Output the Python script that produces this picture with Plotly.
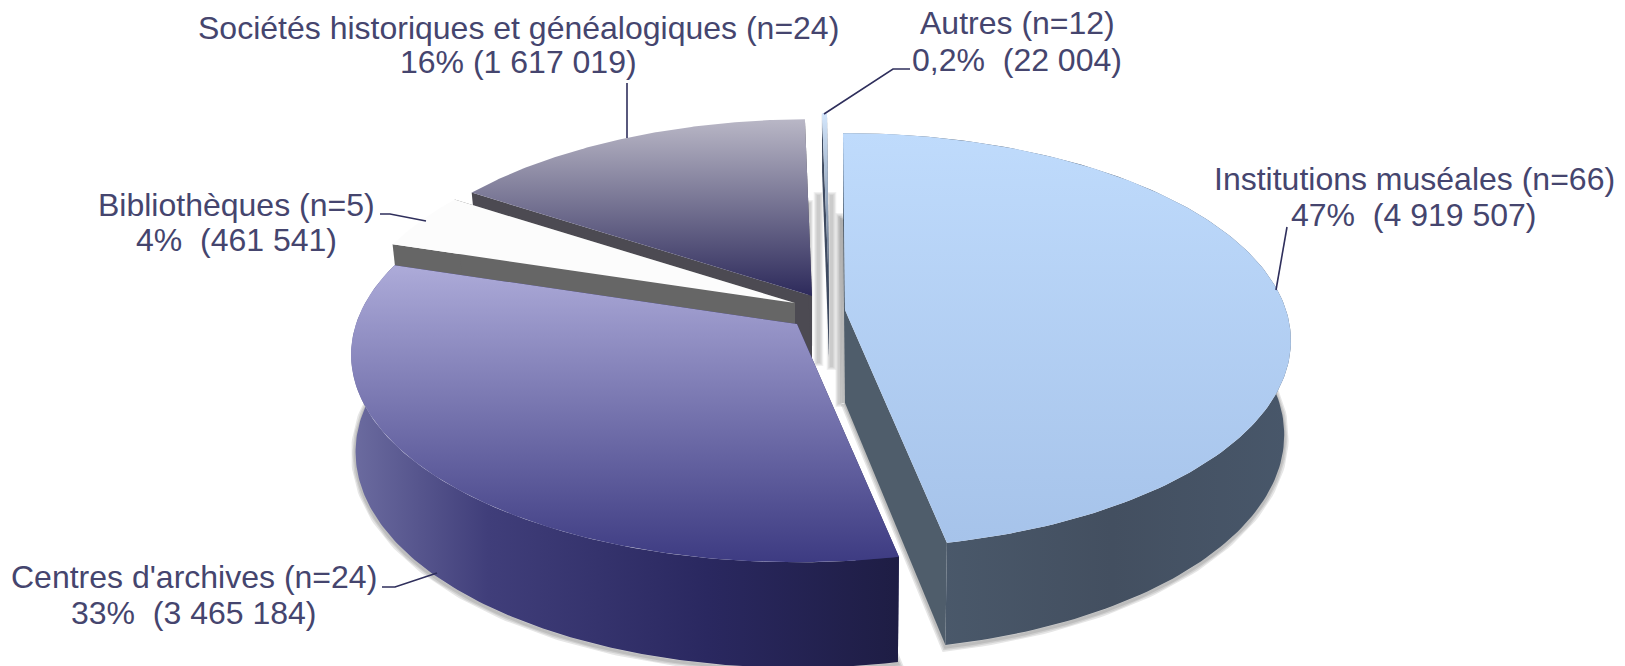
import numpy as np
import plotly.graph_objects as go

# ---- data ----
categories = ["Institutions muséales", "Centres d'archives", "Bibliothèques",
              "Sociétés historiques et généalogiques", "Autres"]
counts = [66, 24, 5, 24, 12]
amounts = [4919507, 3465184, 461541, 1617019, 22004]
second_lines = ["47%\u00a0 (4 919 507)", "33%\u00a0 (3 465 184)", "4%\u00a0 (461 541)",
                "16% (1 617 019)", "0,2%\u00a0 (22 004)"]

# ---- projection of the tilted disc ----
R, RT, K = 441.0, 203.0, 0.148
FY = 1.04
fx = [0.985, 0.99, 0.975, 0.975, 0.975]
ROT = np.radians(-0.3)
apex_x = [845, 797, 795, 812, 829]
apex_y = [310, 324, 303, 296, 290]
depths = [93, 96, 93, 93, 67]

TEXT = "#45456e"
LEADER = "#2f2f5c"
FONT = "Liberation Sans"
FONT_SIZE = 32

label_x = [1414, 194, 236, 518, 1017]
line1_y = [179, 577, 205, 28, 23]
line2_y = [215, 613, 240, 62, 60]
leaders = [
    [(1287, 227), (1276, 290)],
    [(382, 587), (395, 587), (437, 573)],
    [(380, 214), (390, 214), (426, 221)],
    [(627, 83), (627, 138)],
    [(824, 114), (893, 69), (910, 69)],
]

# (colour at the far edge, colour at the near edge) of each top face
top_grad = [
    ("#bfdbfc", "#a6c3ea"),
    ("#adabd9", "#3d3b82"),
    ("#fcfcfc", "#fcfcfc"),
    ("#b9b7c6", "#2d2a5b"),
    ("#d3e6fc", "#56667e"),
]
side_scale = [
    [[0, "#566779"], [0.15, "#4b5a6c"], [0.6, "#434f60"], [1, "#48576a"]],
    [[0, "#6c6ca0"], [0.25, "#403e7a"], [0.65, "#2a2860"], [1, "#1e1d44"]],
]
cut_col = ["#4f5d6b", "#2a2860", "#666666", "#4c4a52", "#3e4a60"]

# ---- geometry from values ----
total = sum(amounts)
edges = np.concatenate([[0], np.cumsum(amounts)]) / total * 2 * np.pi + ROT


def top_point(a):
    X, Y = np.sin(a), np.cos(a)
    s = 1 / (1 + K * Y)
    return R * X * s, -RT * Y * s


fig = go.Figure()


def poly(x, y, **kw):
    fig.add_trace(go.Scatter(x=list(x), y=list(y), mode="lines", fill="toself",
                             hoverinfo="skip", showlegend=False, **kw))


slices = []
for i in range(5):
    ang = np.linspace(edges[i], edges[i + 1], 160)
    dx, dy = top_point(ang)
    ax, ay, d = apex_x[i], apex_y[i], depths[i]
    tx, ty = ax + dx, ay + dy
    bx, by = ax + dx * fx[i], ay + d + dy * FY
    slices.append(dict(ax=ax, ay=ay, d=d, tx=tx, ty=ty, bx=bx, by=by))

# soft drop shadow of the two front slices
for i in [0, 1]:
    s = slices[i]
    sx = np.concatenate([[s["ax"]], s["bx"], [s["ax"]]])
    sy = np.concatenate([[s["ay"] + s["d"]], s["by"] + 2, [s["ay"] + s["d"]]])
    for w in (9, 6, 3):
        fig.add_trace(go.Scatter(x=sx, y=sy, mode="lines", hoverinfo="skip", showlegend=False,
                                 line=dict(color="rgba(60,60,60,0.13)", width=w)))

# blurred vertical shadows in the central gap
bands = [(818.5, 192, 366, 7), (831.5, 192, 370, 7), (839.5, 213, 407, 6), (809, 200, 346, 6)]
for c, y0, y1, w in bands:
    for f in (1.4, 1.2, 1.0, 0.8, 0.6, 0.4):
        fig.add_trace(go.Scatter(x=[c, c], y=[y0 + (1.4 - f) * 3, y1 - (1.4 - f) * 3], mode="lines",
                                 hoverinfo="skip", showlegend=False,
                                 line=dict(color="rgba(110,110,110,0.07)", width=w * f)))

# back to front
for i in [3, 4, 2, 1, 0]:
    s = slices[i]
    ax, ay, d = s["ax"], s["ay"], s["d"]
    tx, ty, bx, by = s["tx"], s["ty"], s["bx"], s["by"]
    col = cut_col[i]
    for j in (0, -1):
        poly([ax, tx[j], bx[j], ax, ax], [ay, ty[j], by[j], ay + d, ay],
             fillcolor=col, line=dict(width=0, color=col))
    if i < 2:
        poly(np.concatenate([tx, bx[::-1], [tx[0]]]), np.concatenate([ty, by[::-1], [ty[0]]]),
             fillgradient=dict(type="horizontal", colorscale=side_scale[i]),
             line=dict(width=0, color=col))
    # stop 0 sits at the largest y of the reversed axis, i.e. the near edge
    poly(np.concatenate([[ax], tx, [ax]]), np.concatenate([[ay], ty, [ay]]),
         fillgradient=dict(type="vertical",
                           colorscale=[[0, top_grad[i][1]], [1, top_grad[i][0]]]),
         line=dict(width=0, color=top_grad[i][1]))

# leaders
for pts in leaders:
    fig.add_trace(go.Scatter(x=[p[0] for p in pts], y=[p[1] for p in pts], mode="lines",
                             hoverinfo="skip", showlegend=False,
                             line=dict(color=LEADER, width=1.6)))

for i in range(5):
    for txt, yy in ((f"{categories[i]} (n={counts[i]})", line1_y[i]), (second_lines[i], line2_y[i])):
        fig.add_annotation(x=label_x[i], y=yy, xref="x", yref="y", text=txt,
                           showarrow=False, align="center", xanchor="center", yanchor="middle",
                           font=dict(family=FONT, size=FONT_SIZE, color=TEXT))

fig.update_layout(width=1625, height=666, margin=dict(l=0, r=0, t=0, b=0),
                  paper_bgcolor="white", plot_bgcolor="white", showlegend=False,
                  xaxis=dict(range=[0, 1625], visible=False, fixedrange=True),
                  yaxis=dict(range=[666, 0], visible=False, fixedrange=True))
fig.write_html("out.html", config=dict(displayModeBar=False),
               post_script="document.body.style.margin='0';document.body.style.overflow='hidden';")
